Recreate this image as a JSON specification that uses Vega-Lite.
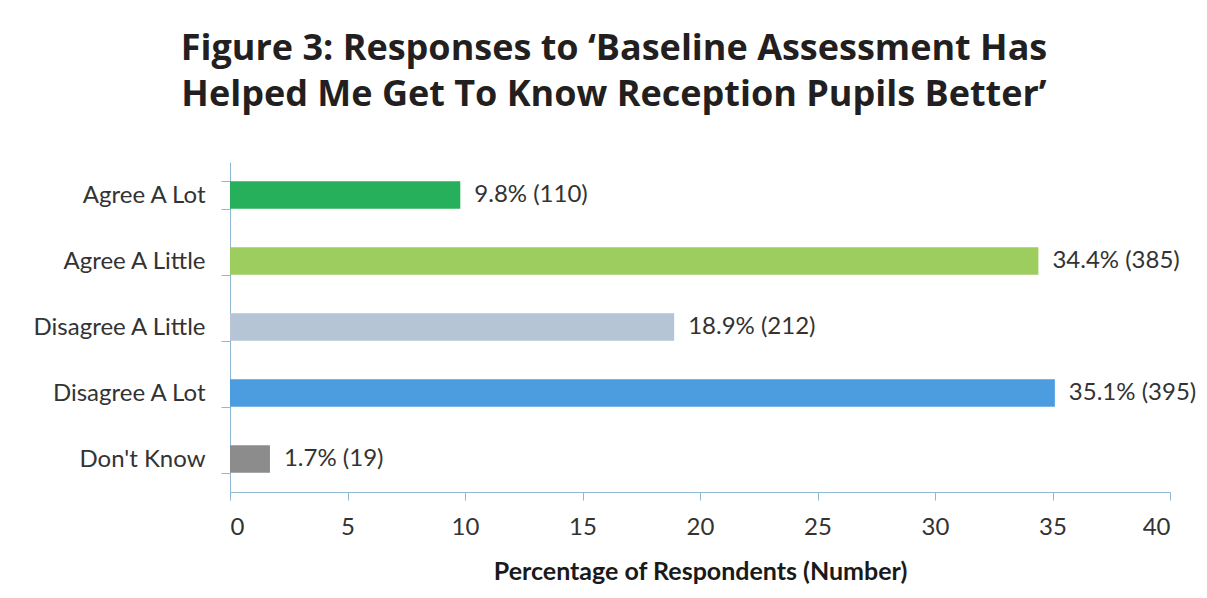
{
  "$schema": "https://vega.github.io/schema/vega-lite/v6.json",
  "width": 940,
  "height": 330,
  "autosize": {"type": "none"},
  "padding": {"left": 230, "top": 162, "right": 37, "bottom": 106},
  "background": "white",
  "title": {
    "text": ["Figure 3: Responses to ‘Baseline Assessment Has", "Helped Me Get To Know Reception Pupils Better’"],
    "font": "Open Sans",
    "fontSize": 36,
    "fontWeight": "bold",
    "color": "#231f20",
    "anchor": "middle",
    "frame": "group",
    "dx": -86,
    "offset": 36,
    "lineHeight": 46
  },
  "data": {
    "values": [
      {"response": "Agree A Lot", "pct": 9.8, "label": "9.8% (110)"},
      {"response": "Agree A Little", "pct": 34.4, "label": "34.4% (385)"},
      {"response": "Disagree A Little", "pct": 18.9, "label": "18.9% (212)"},
      {"response": "Disagree A Lot", "pct": 35.1, "label": "35.1% (395)"},
      {"response": "Don't Know", "pct": 1.7, "label": "1.7% (19)"}
    ]
  },
  "encoding": {
    "y": {
      "field": "response",
      "type": "nominal",
      "sort": null,
      "scale": {"paddingInner": 0.58, "paddingOuter": 0.29},
      "axis": {
        "title": null,
        "domainColor": "#8fb9d3",
        "tickColor": "#8fb9d3",
        "tickBand": "extent",
        "tickSize": 9,
        "labelPadding": 16,
        "labelFont": "Lato",
        "labelFontSize": 24,
        "labelColor": "#333333"
      }
    },
    "x": {
      "field": "pct",
      "type": "quantitative",
      "scale": {"domain": [0, 40]},
      "axis": {
        "title": "Percentage of Respondents (Number)",
        "titleFont": "Lato",
        "titleFontSize": 25,
        "titleFontWeight": "bold",
        "titleColor": "#1a1a1a",
        "titlePadding": 20,
        "values": [0, 5, 10, 15, 20, 25, 30, 35, 40],
        "grid": false,
        "domainColor": "#8fb9d3",
        "tickColor": "#8fb9d3",
        "tickSize": 8,
        "labelPadding": 15,
        "labelFont": "Lato",
        "labelFontSize": 24,
        "labelColor": "#333333"
      }
    }
  },
  "layer": [
    {
      "mark": {"type": "bar"},
      "encoding": {
        "color": {
          "field": "response",
          "type": "nominal",
          "sort": null,
          "scale": {
            "domain": ["Agree A Lot", "Agree A Little", "Disagree A Little", "Disagree A Lot", "Don't Know"],
            "range": ["#27b05b", "#9dcc5f", "#b6c5d6", "#4c9ddf", "#8c8c8c"]
          },
          "legend": null
        }
      }
    },
    {
      "mark": {"type": "text", "align": "left", "dx": 14, "font": "Lato", "fontSize": 24, "color": "#333333"},
      "encoding": {"text": {"field": "label"}}
    }
  ],
  "config": {"view": {"stroke": null}}
}
